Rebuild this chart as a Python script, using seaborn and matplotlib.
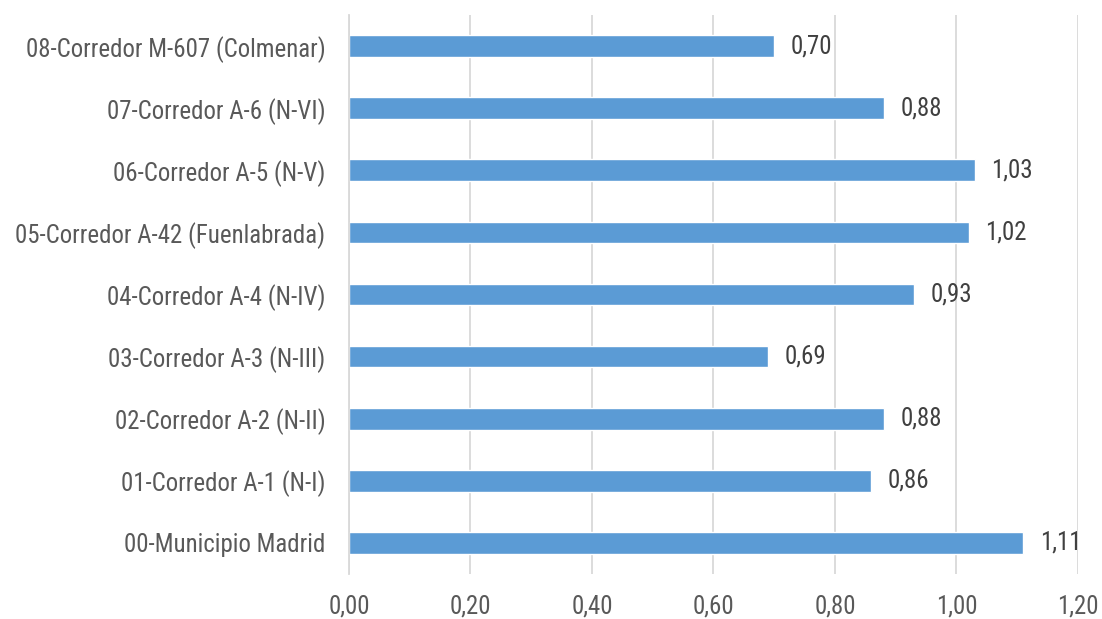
import matplotlib
matplotlib.use("Agg")
import matplotlib.pyplot as plt
import seaborn as sns
from matplotlib import font_manager

categories = [
    "08-Corredor M-607 (Colmenar)",
    "07-Corredor A-6 (N-VI)",
    "06-Corredor A-5 (N-V)",
    "05-Corredor A-42 (Fuenlabrada)",
    "04-Corredor A-4 (N-IV)",
    "03-Corredor A-3 (N-III)",
    "02-Corredor A-2 (N-II)",
    "01-Corredor A-1 (N-I)",
    "00-Municipio Madrid",
]
values = [0.70, 0.88, 1.03, 1.02, 0.93, 0.69, 0.88, 0.86, 1.11]
xticks = [0.0, 0.2, 0.4, 0.6, 0.8, 1.0, 1.2]

sns.set_theme(style="white")

# prefer a condensed face if one is installed
fam, size, ypad = "Liberation Sans", 16, 12
for f in font_manager.fontManager.ttflist:
    n = f.name
    if ("Narrow" in n or "Condensed" in n) and ("Liberation" in n or "Roboto" in n
                                                or "Open Sans" in n or "Noto Sans" in n):
        fam, size, ypad = n, 17.9, 17
        break
plt.rcParams["font.family"] = [fam, "DejaVu Sans"]

text_color = "#595959"
fig = plt.figure(figsize=(11.02, 6.19), dpi=100)
ax = fig.add_axes([0.3167, 0.0727, 0.6615, 0.9030])

sns.barplot(x=values, y=categories, color="#5B9BD5", width=0.35, orient="h",
            saturation=1, ax=ax)

ax.set_xlim(0, 1.2)
ax.set_ylim(8.5, -0.5)
ax.set_xticks(xticks)
ax.set_xticklabels([f"{t:.2f}".replace(".", ",") for t in xticks])
ax.xaxis.grid(True, color="#D9D9D9", linewidth=1.3)
ax.yaxis.grid(False)
ax.set_axisbelow(True)
for s in ["top", "right", "bottom"]:
    ax.spines[s].set_visible(False)
ax.spines["left"].set_color("#D9D9D9")
ax.spines["left"].set_linewidth(1.3)
ax.tick_params(axis="x", length=0, pad=15, labelsize=size, labelcolor=text_color)
ax.tick_params(axis="y", length=0, pad=ypad, labelsize=size, labelcolor=text_color)
ax.set_xlabel("")
ax.set_ylabel("")

for i, v in enumerate(values):
    ax.annotate(f"{v:.2f}".replace(".", ","), xy=(v, i), xytext=(12, 0),
                textcoords="offset points", va="center", ha="left",
                fontsize=size, color="#404040")

fig.savefig("out.png", dpi=100)
